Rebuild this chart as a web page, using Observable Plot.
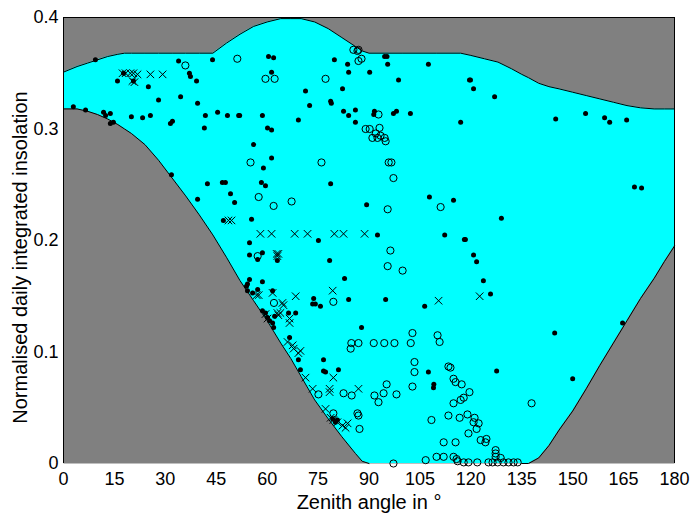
<!DOCTYPE html>
<html><head><meta charset="utf-8">
<script src="https://cdn.jsdelivr.net/npm/d3@7"></script>
<script src="https://cdn.jsdelivr.net/npm/@observablehq/plot@0.6"></script>
<style>body{margin:0;background:#fff} svg{display:block}</style>
</head><body><div id="chart"></div>
<script>
const xTicks = [0,15,30,45,60,75,90,105,120,135,150,165,180];
const yTicks = [0,0.1,0.2,0.3,0.4];
const xLabel = "Zenith angle in °";
const yLabel = "Normalised daily integrated insolation";

const boundAngle = [0,4,7,10,13,16,18,20,24,28,32,36,40,44,48,52,56,60,64,67,70,74,78,82,86,88,90,100,110,117,120,124,128,132,135,137,140,143,146,150,154,158,162,166,170,174,177,180];
const boundUpper = [0.351,0.356,0.359,0.362,0.365,0.367,0.368,0.368,0.368,0.368,0.368,0.368,0.368,0.368,0.377,0.385,0.392,0.396,0.399,0.399,0.399,0.396,0.390,0.382,0.374,0.370,0.368,0.368,0.368,0.368,0.366,0.363,0.360,0.354,0.349,0.346,0.341,0.338,0.336,0.333,0.330,0.327,0.324,0.321,0.319,0.318,0.318,0.318];
const boundLower = [0.318,0.318,0.316,0.313,0.309,0.304,0.300,0.296,0.286,0.272,0.256,0.240,0.223,0.205,0.185,0.164,0.146,0.128,0.108,0.094,0.078,0.057,0.040,0.024,0.009,0.002,0,0,0,0,0,0,0,0,0,0,0.005,0.016,0.030,0.047,0.067,0.088,0.108,0.128,0.148,0.166,0.181,0.195];

const dotPoints = [
[9.4,0.362],[33.9,0.361],[43.9,0.362],[15.9,0.343],[17.7,0.350],[20.6,0.343],
[25.0,0.338],[28.0,0.326],[34.5,0.329],[37.1,0.350],[37.4,0.347],[39.2,0.343],[39.5,0.323],
[2.9,0.320],[6.5,0.317],[11.8,0.315],[12.4,0.312],[13.8,0.314],[13.8,0.305],[14.7,0.306],
[20.0,0.311],[23.3,0.310],[25.6,0.312],[31.5,0.305],[32.1,0.307],
[41.8,0.312],[41.5,0.301],[45.4,0.315],[48.3,0.312],[51.6,0.312],[31.8,0.259],
[60.4,0.365],[61.9,0.364],[61.3,0.351],[79.8,0.362],[83.7,0.358],[84.0,0.351],[90.2,0.351],
[94.6,0.365],[95.3,0.365],[95.5,0.358],[107.5,0.358],[98.7,0.344],[119.6,0.344],[71.3,0.334],
[82.2,0.336],[72.5,0.321],[78.7,0.325],[78.9,0.323],[51.9,0.312],[58.6,0.312],[60.1,0.301],
[61.3,0.299],[69.2,0.308],[82.5,0.316],[84.0,0.312],[86.0,0.317],[86.0,0.306],[91.6,0.316],
[91.4,0.313],[97.2,0.314],[98.1,0.316],[102.2,0.314],[117.0,0.306],[56.0,0.286],[61.3,0.274],[58.9,0.265],
[119.9,0.344],[120.8,0.336],[127.0,0.329],[145.0,0.309],[153.8,0.314],[159.4,0.310],[160.9,0.306],[165.9,0.308],
[42.4,0.251],[46.8,0.252],[47.7,0.252],[39.5,0.237],[49.2,0.242],[50.4,0.234],[47.1,0.218],
[58.3,0.252],[59.5,0.249],[78.7,0.251],
[89.3,0.232],[107.8,0.239],[114.9,0.236],[55.4,0.219],[54.8,0.198],[75.1,0.200],[92.5,0.205],
[112.3,0.205],[118.4,0.201],[54.8,0.187],[58.6,0.189],[57.2,0.183],[63.0,0.182],[78.4,0.182],
[82.8,0.166],[54.8,0.165],[54.2,0.161],[53.9,0.159],[58.6,0.163],[55.7,0.153],[57.2,0.156],
[54.2,0.155],[61.6,0.155],[84.0,0.147],[94.9,0.147],[106.4,0.141],[73.7,0.148],[74.2,0.143],
[75.7,0.141],[73.4,0.143],[58.6,0.137],[59.5,0.135],[60.1,0.131],[60.7,0.128],[61.6,0.126],
[61.9,0.122],[62.2,0.132],[66.3,0.135],[68.4,0.135],[66.6,0.113],[87.8,0.122],
[168.2,0.248],[170.3,0.247],[129.0,0.220],[118.1,0.201],[120.8,0.187],[121.7,0.181],
[123.7,0.164],[125.8,0.152],[144.7,0.117],[164.7,0.126],
[69.2,0.093],[76.6,0.093],[69.8,0.084],[76.6,0.083],[77.2,0.082],[81.0,0.084],
[79.3,0.040],[80.1,0.037],[80.7,0.039],[107.5,0.082],[109.0,0.068],[109.1,0.071],
[127.6,0.083],[150.0,0.076]
];

const circlePoints = [
[35.9,0.357],[51.2,0.363],[59.5,0.345],[62.2,0.345],[77.2,0.345],
[85.4,0.371],[86.6,0.370],[86.9,0.371],[86.9,0.361],[87.8,0.363],
[55.1,0.270],[76.0,0.270],[89.0,0.300],[90.2,0.300],[93.1,0.301],[92.8,0.313],
[91.0,0.292],[92.5,0.292],[94.6,0.292],[94.9,0.289],[92.0,0.296],[93.4,0.294],
[95.8,0.270],[96.6,0.270],[97.2,0.256],
[57.5,0.239],[61.9,0.231],[67.2,0.235],[95.5,0.228],[111.1,0.230],
[96.3,0.191],[57.2,0.186],[95.5,0.177],[99.9,0.173],[62.0,0.144],[79.5,0.145],
[102.8,0.117],[110.2,0.115],[110.8,0.109],
[84.8,0.108],[86.9,0.108],[91.4,0.108],[94.5,0.108],[97.5,0.108],[102.3,0.108],[84.6,0.103],
[103.4,0.091],[103.4,0.082],[102.8,0.069],[95.2,0.071],
[75.1,0.062],[82.5,0.063],[84.9,0.061],[91.6,0.061],[92.8,0.055],[94.3,0.063],[98.1,0.062],
[79.5,0.045],[86.6,0.045],[86.9,0.043],[87.2,0.031],[113.4,0.087],[114.0,0.086],
[114.9,0.076],[115.5,0.073],[117.3,0.071],[119.6,0.064],[117.9,0.059],[117.0,0.057],[114.9,0.054],
[113.4,0.043],[116.7,0.041],[119.0,0.044],[121.1,0.041],[120.8,0.037],[122.3,0.036],[121.7,0.031],[119.3,0.027],
[108.4,0.039],[112.0,0.019],[115.5,0.019],[122.9,0.021],[124.3,0.019],[124.6,0.022],
[127.3,0.012],[127.3,0.009],[127.3,0.006],[128.8,0.005],
[106.7,0.003],[109.9,0.006],[112.0,0.006],[114.9,0.006],[115.8,0.004],[116.1,0.002],
[117.9,0.001],[119.3,0.001],[121.9,0.001],[125.2,0.001],[126.4,0.001],[127.9,0.001],
[129.6,0.001],[131.1,0.001],[132.6,0.001],[133.8,0.001],[97.2,0.000],[137.9,0.054]
];

const crossPoints = [
[17.4,0.350],[18.3,0.350],[19.7,0.350],[20.6,0.350],[21.8,0.349],[25.6,0.349],[29.2,0.349],[20.3,0.343],[20.9,0.342],
[48.6,0.218],[49.5,0.218],
[58.0,0.206],[61.3,0.206],[68.1,0.206],[71.9,0.206],[79.8,0.206],[82.5,0.206],[88.7,0.206],
[62.8,0.188],[63.3,0.188],[63.0,0.186],
[79.3,0.155],[57.5,0.151],[56.9,0.151],[61.6,0.153],[68.4,0.150],[64.5,0.144],[64.8,0.142],[110.5,0.146],[122.6,0.150],
[59.5,0.134],[60.1,0.130],[63.0,0.135],[63.3,0.133],[63.9,0.135],[66.6,0.130],[66.6,0.126],
[66.0,0.109],[67.5,0.106],[67.8,0.103],[69.8,0.101],[69.2,0.099],
[71.3,0.077],[79.5,0.077],[73.4,0.067],[78.4,0.067],[78.4,0.064],[86.9,0.067],
[77.2,0.049],[78.7,0.041],[79.5,0.039],[80.7,0.037],[82.2,0.034],[83.1,0.032],[83.7,0.036]
];

const bounds = boundAngle.map((a, i) => ({a, hi: boundUpper[i], lo: boundLower[i]}));
const toObj = p => ({a: p[0], v: p[1]});
const dots = dotPoints.map(toObj), circles = circlePoints.map(toObj), crosses = crossPoints.map(toObj);

const plot = Plot.plot({
  width: 693, height: 513,
  marginTop: 17, marginRight: 19, marginBottom: 50, marginLeft: 63,
  style: {fontFamily: "'Liberation Sans', Arial, sans-serif", fontSize: "18px", background: "white", color: "black", overflow: "visible"},
  x: {domain: [0, 180], ticks: xTicks, tickSize: 0, tickPadding: 9, label: null},
  y: {domain: [0, 0.4], ticks: yTicks, tickSize: 0, tickPadding: 5, label: null, tickFormat: d => d === 0 ? "0" : String(d)},
  marks: [
    Plot.frame({fill: "#808080"}),
    Plot.areaY(bounds, {x: "a", y1: "lo", y2: "hi", fill: "#00ffff"}),
    Plot.line(bounds, {x: "a", y: "hi", stroke: "black", strokeWidth: 1}),
    Plot.line(bounds.filter(d => d.a <= 90), {x: "a", y: "lo", stroke: "black", strokeWidth: 1}),
    Plot.line(bounds.filter(d => d.a >= 135), {x: "a", y: "lo", stroke: "black", strokeWidth: 1}),
    Plot.ruleY([0.4], {stroke: "black"}),
    Plot.ruleX([0, 180], {stroke: "black"}),
    Plot.dot(circles, {x: "a", y: "v", r: 3.6, stroke: "black", fill: "none", strokeWidth: 1}),
    Plot.dot(crosses, {x: "a", y: "v", symbol: "times", r: 3.5, stroke: "black", strokeWidth: 1}),
    Plot.dot(dots, {x: "a", y: "v", r: 2.5, fill: "black"}),
    Plot.text([xLabel], {text: d => d, frameAnchor: "bottom", textAnchor: "middle", dy: 31, lineAnchor: "top", fontSize: 20}),
    Plot.text([yLabel], {text: d => d, frameAnchor: "left", textAnchor: "middle", dx: -51, dy: 17, rotate: -90, lineAnchor: "top", fontSize: 20})
  ]
});
document.getElementById("chart").appendChild(plot);
</script>
</body></html>
